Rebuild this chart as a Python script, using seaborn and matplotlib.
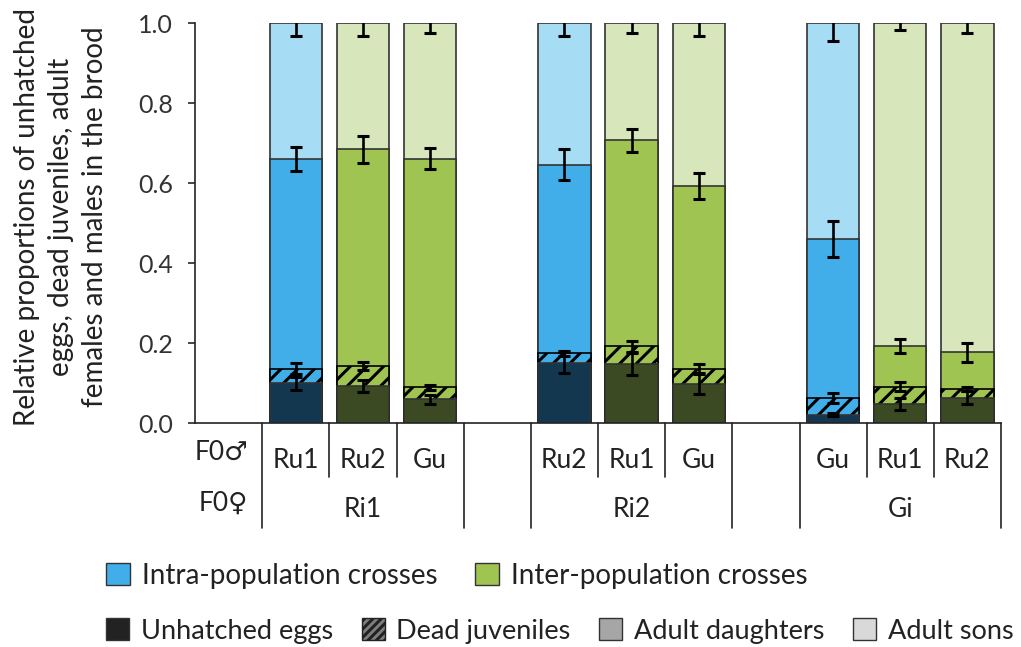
import numpy as np
import pandas as pd
import seaborn as sns
import matplotlib.pyplot as plt
from matplotlib.patches import Patch
import matplotlib.transforms as mtransforms

# crosses (F0 female x F0 male)
females = ["Ri1", "Ri1", "Ri1", "Ri2", "Ri2", "Ri2", "Gi", "Gi", "Gi"]
males = ["Ru1", "Ru2", "Gu", "Ru2", "Ru1", "Gu", "Gu", "Ru1", "Ru2"]
cross_type = ["intra", "inter", "inter", "intra", "inter", "inter", "intra", "inter", "inter"]

# relative proportions in the brood
eggs = [0.100, 0.094, 0.060, 0.152, 0.148, 0.098, 0.022, 0.048, 0.064]
juveniles = [0.037, 0.050, 0.030, 0.023, 0.045, 0.039, 0.042, 0.044, 0.022]
daughters = [0.525, 0.541, 0.572, 0.472, 0.515, 0.457, 0.396, 0.101, 0.092]
sons = [0.338, 0.315, 0.338, 0.353, 0.292, 0.406, 0.540, 0.807, 0.822]

# standard errors
se_eggs = [0.016, 0.015, 0.012, 0.027, 0.028, 0.025, 0.004, 0.015, 0.016]
se_juv = [0.013, 0.010, 0.007, 0.007, 0.014, 0.012, 0.013, 0.012, 0.006]
se_dau = [0.030, 0.033, 0.027, 0.038, 0.029, 0.033, 0.045, 0.018, 0.024]
se_sons = [0.032, 0.032, 0.025, 0.032, 0.025, 0.032, 0.043, 0.017, 0.025]

colours = {
    "intra": {"dark": "#12374f", "mid": "#41aeea", "light": "#a6dcf4"},
    "inter": {"dark": "#3b4a22", "mid": "#a0c452", "light": "#d8e6bb"},
}

sns.set_style("ticks")
plt.rcParams["font.family"] = ["Lato", "DejaVu Sans"]
plt.rcParams["hatch.linewidth"] = 2.2

bar_ids = [f + "-" + m for f, m in zip(females, males)]
# slot layout: empty slot before each group
slots = []
group_order = []
for f, b in zip(females, bar_ids):
    if f not in group_order:
        group_order.append(f)
        slots.append(" " * len(group_order))
    slots.append(b)
pos = np.array([slots.index(b) for b in bar_ids])

df = pd.DataFrame({"bar": bar_ids, "female": females, "male": males, "type": cross_type})
df["c_eggs"] = np.array(eggs)
df["c_juv"] = df["c_eggs"] + np.array(juveniles)
df["c_dau"] = df["c_juv"] + np.array(daughters)
df["c_sons"] = df["c_dau"] + np.array(sons)

fig = plt.figure(figsize=(10.21, 6.47), dpi=100)
ax = fig.add_axes([195 / 1021, 223.7 / 647, 806 / 1021, 400 / 647])

layers = [("c_sons", "light", False), ("c_dau", "mid", False),
          ("c_juv", "mid", True), ("c_eggs", "dark", False)]
for col, shade, hatched in layers:
    pal = {b: colours[t][shade] for b, t in zip(bar_ids, cross_type)}
    n0 = len(ax.patches)
    sns.barplot(data=df, x="bar", y=col, hue="bar", order=slots, palette=pal,
                legend=False, width=0.78, edgecolor="#333333", linewidth=1.2,
                saturation=1, ax=ax)
    if hatched:
        for p in ax.patches[n0:]:
            p.set_hatch("//")
            p.set_edgecolor("black")

err_kw = dict(fmt="none", ecolor="black", elinewidth=1.9, capsize=4.3, capthick=2.2, zorder=5)
for col, se in [("c_eggs", se_eggs), ("c_juv", se_juv), ("c_dau", se_dau), ("c_sons", se_sons)]:
    ax.errorbar(pos, df[col], yerr=se, **err_kw)

ax.set_xlim(-0.5, len(slots) - 0.5)
ax.set_ylim(0, 1)
ax.set_yticks(np.arange(0, 1.01, 0.2))
ax.set_yticklabels([f"{v:.1f}" for v in np.arange(0, 1.01, 0.2)], fontsize=18, color="#333333")
ax.tick_params(axis="y", length=5, width=1.2, pad=11)
ax.tick_params(axis="x", length=0, labelbottom=False)
ax.set_xlabel("")
ax.set_ylabel("")
sns.despine(ax=ax)
for s in ["left", "bottom"]:
    ax.spines[s].set_linewidth(1.2)
    ax.spines[s].set_color("#222222")

fig.text(61 / 1021, 1 - 217 / 647,
         "Relative proportions of unhatched\neggs, dead juveniles, adult\nfemales and males in the brood",
         rotation=90, ha="center", va="center", multialignment="center",
         fontsize=20, linespacing=1.38, color="#222222")

# table under the x axis
trans = mtransforms.blended_transform_factory(ax.transData, ax.transAxes)
line_kw = dict(color="#222222", lw=1.2, transform=trans, clip_on=False)
y_full, y_short = -0.262, -0.134
for g in group_order:
    gp = pos[np.array(females) == g]
    ax.plot([gp.min() - 0.5] * 2, [0, y_full], **line_kw)
    ax.plot([gp.max() + 0.5] * 2, [0, y_full], **line_kw)
    for x in gp[:-1]:
        ax.plot([x + 0.5] * 2, [0, y_short], **line_kw)
    ax.text(gp.mean(), -0.215, g, transform=trans, ha="center", va="center",
            fontsize=19, color="#222222")
for x, m in zip(pos, males):
    ax.text(x, -0.092, m, transform=trans, ha="center", va="center",
            fontsize=19, color="#222222")
ax.text(0.29, -0.072, "F0\u2642", transform=trans, ha="right", va="center",
        fontsize=19, color="#222222")
ax.text(0.29, -0.2, "F0\u2640", transform=trans, ha="right", va="center",
        fontsize=19, color="#222222")

# legends
leg_kw = dict(frameon=False, handlelength=0.86, handleheight=0.83,
              handletextpad=0.43, borderpad=0, borderaxespad=0, loc="center left")
h1 = [Patch(facecolor=colours["intra"]["mid"], edgecolor="#333333", label="Intra-population crosses"),
      Patch(facecolor=colours["inter"]["mid"], edgecolor="#333333", label="Inter-population crosses")]
leg1 = fig.legend(handles=h1, ncol=2, columnspacing=1.35, fontsize=20,
                  bbox_to_anchor=(106 / 1021, 1 - 576 / 647), **leg_kw)
h2 = [Patch(facecolor="#222222", edgecolor="#333333", label="Unhatched eggs"),
      Patch(facecolor="#7f7f7f", edgecolor="#222222", hatch="////", label="Dead juveniles"),
      Patch(facecolor="#a6a6a6", edgecolor="#333333", label="Adult daughters"),
      Patch(facecolor="#d9d9d9", edgecolor="#333333", label="Adult sons")]
leg2 = fig.legend(handles=h2, ncol=4, columnspacing=1.05, fontsize=19.5,
                  bbox_to_anchor=(106 / 1021, 1 - 631 / 647), **leg_kw)
for leg in (leg1, leg2):
    for t in leg.get_texts():
        t.set_color("#222222")

fig.savefig("out.png", dpi=100)
